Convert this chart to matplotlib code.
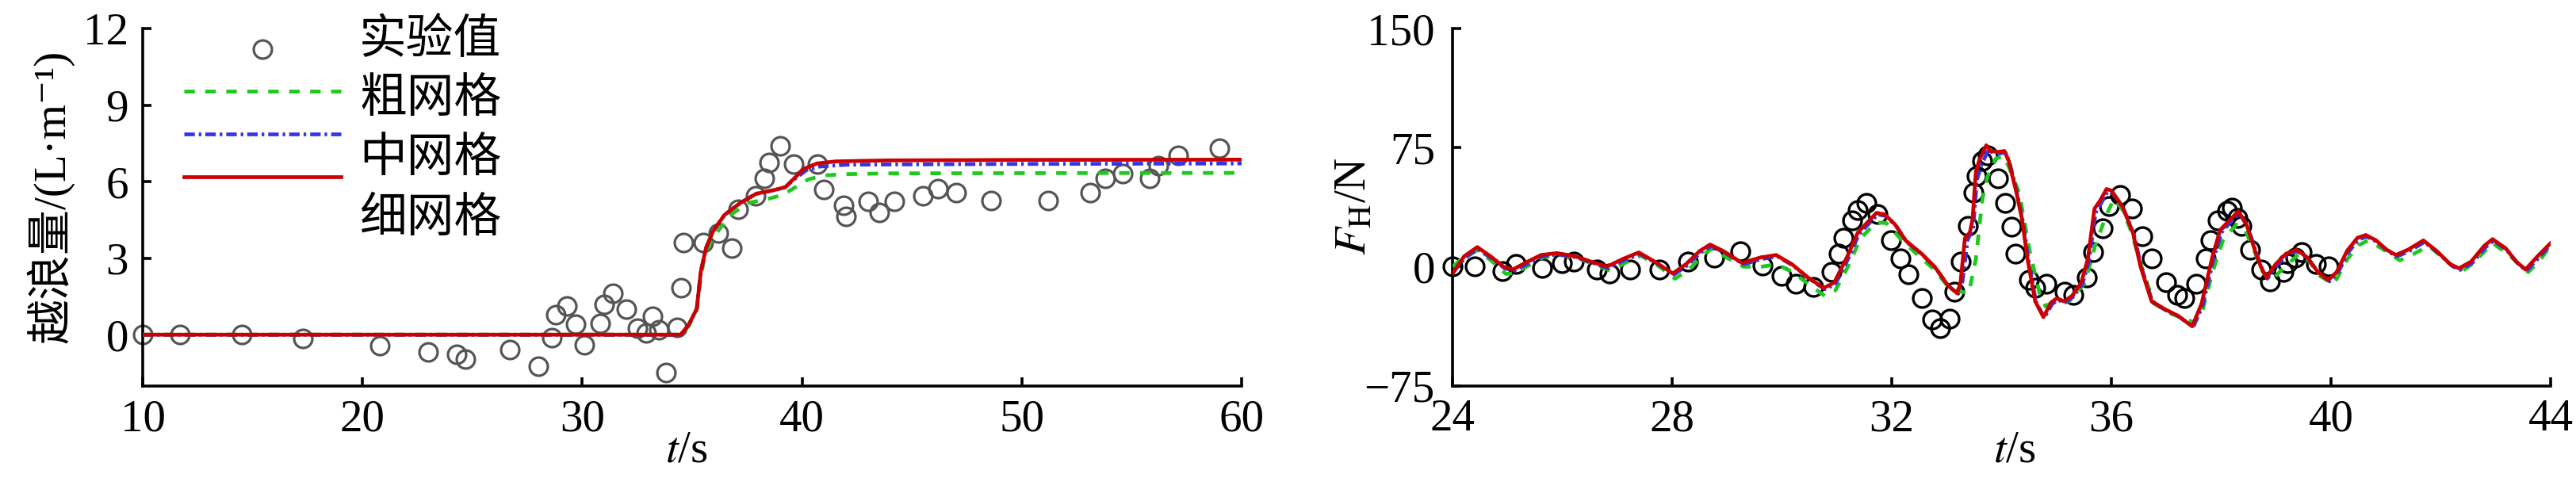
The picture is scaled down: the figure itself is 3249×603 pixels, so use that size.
import numpy as np
import matplotlib
matplotlib.use("Agg")
import matplotlib.pyplot as plt
from matplotlib.lines import Line2D

plt.rcParams['font.family'] = ['Liberation Serif', 'Noto Sans CJK SC', 'DejaVu Sans']
plt.rcParams['mathtext.fontset'] = 'stix'
plt.rcParams['font.size'] = 41

# ---- left panel: overtopping volume ----
left_exp_t = [10.0, 11.7, 14.5, 17.3, 20.8, 23.0, 24.3, 24.7, 26.7,
              28.0, 28.6, 28.8, 29.3, 29.7, 30.1, 30.8, 31.0, 31.4, 32.0,
              32.5, 32.9, 33.2, 33.5, 33.8, 34.3, 34.5, 34.6, 35.5, 36.2,
              36.8, 37.1, 37.9, 38.3, 38.5, 39.0, 39.6, 40.7, 41.0, 41.9,
              42.0, 43.0, 43.5, 44.2, 45.5, 46.2, 47.0, 48.6, 51.2, 53.1,
              53.8, 54.6, 55.8, 56.2, 57.1, 59.0]
left_exp_q = [0.0, 0.0, 0.0, -0.14, -0.42, -0.69, -0.78, -0.96, -0.6,
              -1.25, -0.12, 0.78, 1.13, 0.42, -0.39, 0.45, 1.19, 1.61, 1.0,
              0.24, 0.06, 0.72, 0.18, -1.49, 0.3, 1.85, 3.62, 3.62, 4.0,
              3.4, 4.93, 5.44, 6.13, 6.75, 7.41, 6.69, 6.69, 5.71, 5.08,
              4.64, 5.23, 4.81, 5.23, 5.44, 5.73, 5.59, 5.26, 5.26, 5.59,
              6.15, 6.33, 6.15, 6.63, 7.05, 7.32]

left_coarse = np.array([
    [10.0, 0.0], [34.5, 0.0], [34.85, 0.35], [35.2, 0.95], [35.4, 2.3],
    [35.6, 3.2], [35.75, 3.5], [36.23, 4.13], [36.83, 4.75], [37.55, 5.17],
    [38.4, 5.32], [39.1, 5.48], [39.8, 5.84], [40.3, 6.1], [41.0, 6.25],
    [41.9, 6.3], [43.9, 6.33], [50.0, 6.34], [60.0, 6.35]])
left_medium = np.array([
    [10.0, 0.0], [34.48, 0.0], [34.85, 0.4], [35.21, 1.02], [35.39, 2.47],
    [35.63, 3.4], [35.93, 4.03], [36.47, 4.7], [37.19, 5.17], [37.91, 5.53],
    [38.75, 5.68], [39.24, 5.79], [39.6, 6.07], [40.2, 6.46], [40.8, 6.6],
    [42.0, 6.67], [43.9, 6.68], [50.0, 6.7], [60.0, 6.72]])
left_fine = np.array([
    [10.0, 0.0], [34.48, 0.0], [34.85, 0.4], [35.21, 1.02], [35.39, 2.47],
    [35.63, 3.4], [35.93, 4.03], [36.47, 4.7], [37.19, 5.17], [37.91, 5.53],
    [38.75, 5.68], [39.24, 5.79], [39.6, 6.1], [40.08, 6.51], [40.68, 6.72],
    [41.52, 6.8], [42.6, 6.82], [43.92, 6.84], [50.0, 6.86], [60.0, 6.87]])

# ---- right panel: horizontal force ----
right_exp_t = [24.0, 24.4, 24.91, 25.15, 25.63, 25.99, 26.21, 26.62, 26.86, 27.24,
               27.77, 28.28, 28.76, 29.24, 29.65, 29.99, 30.25, 30.57, 30.9, 31.03,
               31.12, 31.27, 31.38, 31.53, 31.74, 31.98, 32.15, 32.3, 32.54, 32.73,
               32.88, 33.05, 33.14, 33.26, 33.38, 33.48, 33.55, 33.65, 33.74, 33.94,
               34.06, 34.18, 34.25, 34.49, 34.61, 34.81, 35.14, 35.31, 35.55, 35.67,
               35.84, 35.96, 36.15, 36.37, 36.56, 36.73, 36.99, 37.19, 37.33, 37.55,
               37.71, 37.81, 37.93, 38.1, 38.2, 38.29, 38.36, 38.53, 38.72, 38.89,
               39.13, 39.21, 39.35, 39.47, 39.73, 39.95]
right_exp_f = [0.0, 0.0, -2.6, 1.6, -1.0, 2.4, 3.25, -1.75, -4.25, -1.75,
               -1.75, 3.25, 5.75, 9.9, 0.75, -6.0, -11.0, -12.6, -3.4, 8.25,
               18.25, 29.0, 35.75, 40.0, 33.25, 16.6, 5.0, -5.0, -20.0, -33.4,
               -39.0, -32.6, -16.0, 3.25, 25.75, 46.6, 57.4, 66.6, 70.0, 55.75,
               40.0, 25.0, 8.25, -8.4, -13.4, -10.9, -16.0, -17.6, -6.75, 9.0,
               24.0, 38.25, 45.0, 36.6, 19.0, 5.0, -10.0, -17.6, -20.0, -11.0,
               5.0, 16.6, 29.0, 35.0, 37.4, 30.75, 25.75, 10.75, -1.75, -9.25,
               -3.4, 2.4, 5.75, 9.0, 1.6, 0.0]

right_coarse = np.array([
    [24.0, 0.0], [24.2, 6.0], [24.45, 10.5], [24.7, 4.0], [24.97, -4.5],
    [25.15, -4.0], [25.37, 0.5], [25.65, 6.0], [25.95, 7.5], [26.27, 5.5],
    [26.58, 1.5], [26.88, -2.5], [27.15, 2.5], [27.43, 7.0], [27.75, 0.5],
    [28.05, -7.6], [28.3, -2.0], [28.55, 7.0], [28.72, 11.6], [28.98, 6.0],
    [29.3, 0.0], [29.62, 0.0], [29.9, 1.5], [30.2, -3.5], [30.5, -11.5],
    [30.78, -18.4], [30.97, -15.0], [31.2, 0.0], [31.43, 18.0], [31.72, 28.0],
    [31.9, 27.5], [32.2, 16.0], [32.5, 6.5], [32.78, -2.0], [33.0, -11.5],
    [33.17, -15.0], [33.4, -16.75], [33.53, 5.0], [33.65, 43.0], [33.74, 56.6],
    [33.89, 68.0], [34.03, 70.0], [34.13, 63.0], [34.32, 46.6], [34.51, 10.0],
    [34.71, -20.0], [34.8, -25.0], [34.95, -21.75], [35.23, -21.75], [35.52, -10.0],
    [35.7, 13.0], [35.91, 33.0], [36.05, 43.0], [36.2, 36.0], [36.35, 23.0],
    [36.58, -3.4], [36.78, -23.4], [37.11, -30.0], [37.5, -35.0], [37.64, -30.0],
    [37.84, -3.4], [38.03, 16.6], [38.27, 26.6], [38.42, 24.0], [38.6, 10.0],
    [38.75, -3.0], [38.9, -9.0], [39.1, -2.0], [39.42, 8.25], [39.6, 3.5],
    [39.8, -6.0], [40.05, -11.0], [40.3, 5.0], [40.5, 13.5], [40.67, 16.6],
    [40.9, 12.0], [41.25, 4.0], [41.5, 8.0], [41.78, 13.25], [42.05, 5.0],
    [42.36, -3.4], [42.6, 2.5], [42.94, 15.0], [43.25, 7.0], [43.59, -3.4],
    [43.8, 4.0], [44.0, 13.25]])
right_medium = np.array([
    [24.0, -4.0], [24.22, 5.5], [24.46, 11.0], [24.7, 5.5], [24.95, -1.0],
    [25.12, -2.5], [25.35, 1.5], [25.63, 6.5], [25.92, 7.8], [26.25, 6.0],
    [26.55, 2.5], [26.83, -1.0], [27.12, 4.0], [27.41, 8.0], [27.7, 2.5],
    [28.03, -5.0], [28.27, 0.8], [28.52, 9.0], [28.71, 13.0], [28.95, 9.0],
    [29.3, 1.5], [29.62, 4.8], [29.91, 6.5], [30.2, 0.8], [30.49, -7.5],
    [30.78, -14.2], [30.97, -11.0], [31.21, 5.5], [31.4, 20.5], [31.74, 33.0],
    [31.89, 32.0], [32.08, 25.6], [32.27, 15.6], [32.56, 7.4], [32.8, -1.0],
    [33.04, -12.6], [33.21, -17.0], [33.28, -11.0], [33.38, 17.0], [33.48, 24.0],
    [33.55, 55.0], [33.63, 64.0], [33.76, 74.0], [33.81, 72.5], [33.96, 71.5],
    [34.07, 72.0], [34.15, 65.0], [34.29, 45.0], [34.39, 28.0], [34.49, 3.5],
    [34.63, -23.0], [34.78, -32.0], [34.92, -23.5], [35.02, -21.0], [35.16, -22.5],
    [35.3, -19.0], [35.47, -11.0], [35.59, 3.5], [35.71, 34.0], [35.81, 40.0],
    [35.93, 47.5], [36.02, 46.5], [36.22, 36.5], [36.41, 20.0], [36.55, -1.0],
    [36.75, -22.5], [36.99, -27.5], [37.23, -31.5], [37.49, -38.0], [37.66, -24.5],
    [37.86, 5.0], [38.0, 21.5], [38.14, 27.0], [38.33, 33.5], [38.48, 25.5],
    [38.62, 10.5], [38.74, -1.0], [38.84, -7.5], [39.01, 0.8], [39.2, 7.4],
    [39.39, 9.8], [39.59, 4.8], [39.78, -4.2], [39.97, -9.2], [40.12, -4.2],
    [40.31, 9.0], [40.5, 17.2], [40.65, 19.0], [40.84, 15.6], [41.03, 9.8],
    [41.2, 6.5], [41.42, 9.8], [41.7, 15.6], [41.94, 9.0], [42.19, 0.8],
    [42.35, -2.0], [42.57, 2.4], [42.81, 12.2], [42.96, 16.4], [43.2, 10.6],
    [43.39, 2.4], [43.56, -2.6], [43.78, 5.6], [44.0, 14.0]])
right_fine = np.array([
    [24.0, -4.25], [24.21, 6.6], [24.45, 12.4], [24.69, 6.6], [24.93, 0.0],
    [25.1, -1.75], [25.32, 2.4], [25.61, 7.4], [25.9, 8.6], [26.23, 6.6],
    [26.52, 3.25], [26.81, 0.0], [27.1, 4.9], [27.39, 9.0], [27.68, 3.25],
    [28.01, -4.25], [28.25, 1.6], [28.5, 9.9], [28.69, 14.0], [28.93, 9.9],
    [29.27, 2.4], [29.6, 5.75], [29.89, 7.4], [30.18, 1.6], [30.47, -6.75],
    [30.76, -13.4], [30.95, -10.0], [31.19, 6.6], [31.38, 21.6], [31.72, 34.0],
    [31.87, 33.0], [32.06, 26.6], [32.25, 16.6], [32.54, 8.25], [32.78, 0.0],
    [33.02, -11.75], [33.19, -16.75], [33.25, -10.0], [33.33, 18.0], [33.42, 21.6],
    [33.47, 30.0], [33.53, 60.0], [33.6, 68.0], [33.72, 76.6], [33.79, 73.0],
    [33.94, 72.4], [34.05, 73.0], [34.13, 66.6], [34.27, 46.6], [34.37, 30.0],
    [34.47, 5.0], [34.61, -21.75], [34.76, -31.75], [34.9, -22.6], [35.0, -20.0],
    [35.14, -21.75], [35.28, -18.4], [35.45, -10.0], [35.57, 5.0], [35.69, 36.6],
    [35.79, 41.6], [35.91, 49.0], [36.0, 48.0], [36.2, 38.0], [36.39, 21.6],
    [36.53, 0.0], [36.73, -21.75], [36.97, -26.75], [37.21, -30.9], [37.47, -37.6],
    [37.64, -23.4], [37.84, 6.6], [37.98, 23.25], [38.12, 28.25], [38.31, 35.0],
    [38.46, 26.6], [38.6, 11.6], [38.72, 0.0], [38.82, -6.75], [38.99, 1.6],
    [39.18, 8.25], [39.37, 10.75], [39.57, 5.75], [39.76, -3.4], [39.95, -8.4],
    [40.1, -3.4], [40.29, 10.0], [40.48, 18.25], [40.63, 20.0], [40.82, 16.6],
    [41.01, 10.75], [41.18, 7.4], [41.4, 10.75], [41.68, 16.6], [41.92, 10.0],
    [42.17, 1.6], [42.33, -1.0], [42.55, 3.25], [42.79, 13.25], [42.94, 17.4],
    [43.18, 11.6], [43.37, 3.25], [43.54, -1.75], [43.76, 6.6], [44.0, 15.0]])

legend_names = ['实验值', '粗网格', '中网格', '细网格']

RED = '#cc0000'
GREEN = '#1ec81e'
BLUE = '#3535e8'
GRAY = '#555555'
LW = 3.4
DASH = (0, (2.8, 2.8))
DASHDOT = (0, (2.8, 1.05, 0.7, 1.05))


def style_axes(ax, xlim, ylim, xticks, yticks, ypad):
    ax.set_xlim(xlim)
    ax.set_ylim(ylim)
    ax.set_xticks(xticks)
    ax.set_yticks(yticks)
    for s in ['top', 'right']:
        ax.spines[s].set_visible(False)
    for s in ['left', 'bottom']:
        ax.spines[s].set_linewidth(2.6)
    ax.tick_params(direction='in', length=8, width=2.6, labelsize=41)
    ax.tick_params(axis='x', pad=12)
    ax.tick_params(axis='y', pad=ypad)


fig = plt.figure(figsize=(32.49, 6.03), dpi=100)
ax1 = fig.add_axes([0.0554, 0.1932, 0.4266, 0.7463])
ax2 = fig.add_axes([0.5639, 0.1932, 0.4263, 0.7463])

# left
ax1.plot(left_exp_t, left_exp_q, 'o', ms=16.5, mfc='none', mec=GRAY, mew=2.3,
         clip_on=False, zorder=2)
ax1.plot(left_coarse[:, 0], left_coarse[:, 1], color=GREEN, lw=LW, ls=DASH, zorder=3)
ax1.plot(left_medium[:, 0], left_medium[:, 1], color=BLUE, lw=LW, ls=DASHDOT, zorder=4)
ax1.plot(left_fine[:, 0], left_fine[:, 1], color=RED, lw=LW, zorder=5)
style_axes(ax1, (10, 60), (-2, 12), range(10, 61, 10), [0, 3, 6, 9, 12], 13)
ax1.set_xlabel('$t$/s')
ax1.xaxis.set_label_coords(0.495, -0.125)
ax1.set_ylabel('越浪量/(L·m⁻¹)')
ax1.yaxis.set_label_coords(-0.084, 0.53)
ax1.yaxis.label.set_verticalalignment('center')

handles = [
    Line2D([], [], ls='none', marker='o', ms=16.5, mfc='none', mec=GRAY, mew=2.3),
    Line2D([], [], color=GREEN, lw=LW, ls=DASH),
    Line2D([], [], color=BLUE, lw=LW, ls=DASHDOT),
    Line2D([], [], color=RED, lw=LW),
]
ax1.legend(handles, [''] * 4, loc='upper left', bbox_to_anchor=(0.0375, 0.976),
           frameon=False, borderpad=0, borderaxespad=0, handlelength=5.1,
           handletextpad=0, labelspacing=0.43, fontsize=28, numpoints=1)
for name, yy in zip(legend_names, [0.9656, 0.799, 0.632, 0.466]):
    ax1.text(0.197, yy, name, transform=ax1.transAxes, fontsize=43,
             va='center', ha='left')

# right
ax2.plot(right_exp_t, right_exp_f, 'o', ms=16.5, mfc='none', mec='black', mew=2.4,
         clip_on=False, zorder=2)
ax2.plot(right_coarse[:, 0], right_coarse[:, 1], color=GREEN, lw=LW, ls=DASH, zorder=3)
ax2.plot(right_medium[:, 0], right_medium[:, 1], color=BLUE, lw=LW, ls=DASHDOT, zorder=4)
ax2.plot(right_fine[:, 0], right_fine[:, 1], color=RED, lw=LW, zorder=5)
style_axes(ax2, (24, 44), (-75, 150), range(24, 45, 4), [-75, 0, 75, 150], 16)
ax2.set_xlabel('$t$/s')
ax2.xaxis.set_label_coords(0.512, -0.125)
ax2.set_ylabel('$F_\\mathrm{H}$/N')
ax2.yaxis.set_label_coords(-0.0895, 0.503)
ax2.yaxis.label.set_verticalalignment('center')

fig.savefig('out.png', dpi=100)
